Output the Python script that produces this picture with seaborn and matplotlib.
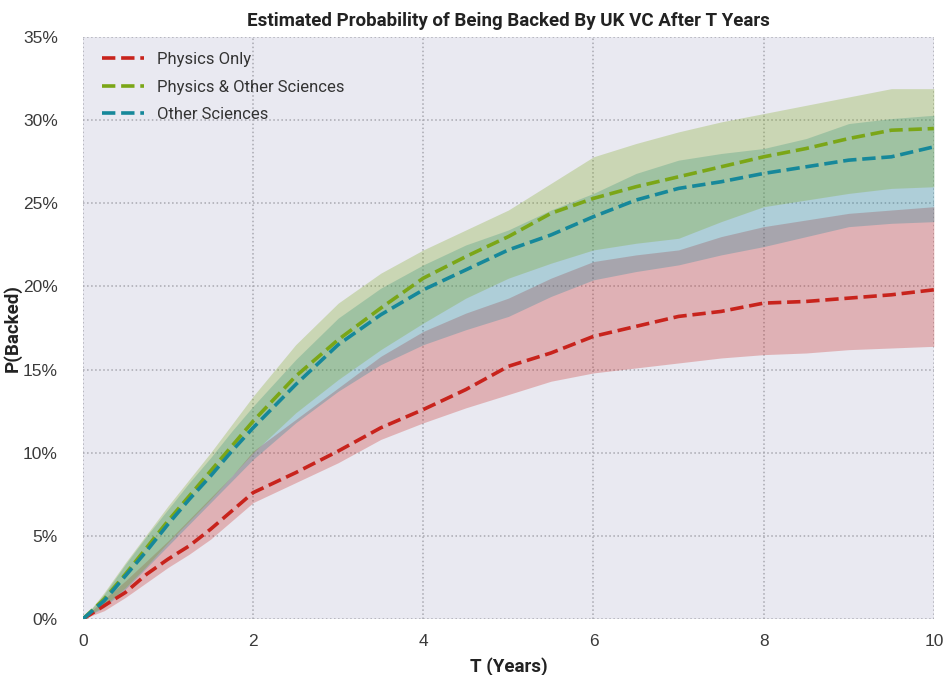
import matplotlib
matplotlib.use("Agg")
import matplotlib.pyplot as plt
import seaborn as sns
from matplotlib.ticker import FuncFormatter

# ---- data (percent) ----
T = [0, 0.25, 0.5, 0.75, 1, 1.25, 1.5, 1.75, 2, 2.5, 3, 3.5, 4, 4.5, 5,
     5.5, 6, 6.5, 7, 7.5, 8, 8.5, 9, 9.5, 10]

physics_only = [0, 0.8, 1.6, 2.7, 3.6, 4.4, 5.4, 6.5, 7.6, 8.8, 10.1, 11.5, 12.6,
                13.8, 15.2, 16.0, 17.0, 17.6, 18.2, 18.5, 19.0, 19.1, 19.3, 19.5, 19.8]
physics_only_lo = [0, 0.5, 1.3, 2.2, 3.1, 3.9, 4.8, 5.9, 7.0, 8.2, 9.4, 10.8, 11.8,
                   12.7, 13.5, 14.3, 14.8, 15.1, 15.4, 15.7, 15.9, 16.0, 16.2, 16.3, 16.4]
physics_only_hi = [0, 1.2, 2.3, 3.5, 4.7, 6.0, 7.3, 8.6, 10.1, 12.0, 13.9, 15.8, 17.3,
                   18.4, 19.3, 20.5, 21.5, 21.9, 22.2, 23.0, 23.6, 24.0, 24.4, 24.6, 24.8]

physics_other = [0, 1.2, 2.7, 4.3, 5.9, 7.4, 8.9, 10.4, 11.9, 14.6, 16.8, 18.7, 20.5,
                 21.8, 23.0, 24.4, 25.3, 26.0, 26.6, 27.2, 27.8, 28.3, 28.9, 29.4, 29.5]
physics_other_lo = [0, 0.8, 1.9, 3.2, 4.6, 5.9, 7.2, 8.6, 10.0, 12.4, 14.4, 16.2, 17.8,
                    19.3, 20.5, 21.4, 22.2, 22.6, 22.9, 23.9, 24.8, 25.2, 25.6, 25.9, 26.0]
physics_other_hi = [0, 1.6, 3.4, 5.1, 6.8, 8.4, 10.0, 11.7, 13.4, 16.5, 19.0, 20.8, 22.2,
                    23.4, 24.6, 26.2, 27.8, 28.6, 29.3, 29.9, 30.4, 30.9, 31.4, 31.9, 31.9]

other_sci = [0, 1.1, 2.6, 4.1, 5.7, 7.2, 8.6, 10.1, 11.5, 14.1, 16.5, 18.3, 19.8,
             21.0, 22.2, 23.1, 24.2, 25.2, 25.9, 26.3, 26.8, 27.2, 27.6, 27.8, 28.4]
other_sci_lo = [0, 0.7, 1.8, 3.1, 4.4, 5.7, 7.0, 8.3, 9.6, 11.8, 13.7, 15.3, 16.5,
                17.4, 18.2, 19.4, 20.4, 20.9, 21.3, 21.9, 22.4, 23.0, 23.6, 23.8, 23.9]
other_sci_hi = [0, 1.5, 3.3, 5.0, 6.6, 8.2, 9.7, 11.3, 12.8, 15.6, 18.1, 19.9, 21.3,
                22.5, 23.4, 24.6, 25.6, 26.8, 27.6, 28.0, 28.3, 28.9, 29.8, 30.1, 30.3]

series_names = ["Physics Only", "Physics & Other Sciences", "Other Sciences"]
series_colors = ["#c8231c", "#7ba617", "#16889a"]

x_ticks = [0, 2, 4, 6, 8, 10]
y_ticks = [0, 5, 10, 15, 20, 25, 30, 35]

# ---- style ----
sns.set_theme(style="darkgrid", rc={
    "axes.facecolor": "#e9e9f1",
    "grid.color": "#a8a8b0",
    "grid.linestyle": ":",
    "grid.linewidth": 1.1,
})
plt.rcParams["font.family"] = ["Liberation Sans", "DejaVu Sans"]
head_font = "Roboto"

fig = plt.figure(figsize=(9.47, 6.75), dpi=100)
ax = fig.add_axes([0.0876, 0.083, 0.8985, 0.862])

bands = [(physics_only_lo, physics_only_hi),
         (physics_other_lo, physics_other_hi),
         (other_sci_lo, other_sci_hi)]
lines = [physics_only, physics_other, other_sci]

for i in [0, 2, 1]:
    lo, hi = bands[i]
    ax.fill_between(T, lo, hi, color=series_colors[i], alpha=0.28, linewidth=0)

for i in range(3):
    sns.lineplot(x=T, y=lines[i], ax=ax, color=series_colors[i], linestyle="--",
                 linewidth=2.6, label=series_names[i])

ax.set_xlim(0, 10)
ax.set_ylim(0, 35)
ax.set_xticks(x_ticks)
ax.set_yticks(y_ticks)
ax.yaxis.set_major_formatter(FuncFormatter(lambda v, p: f"{int(v)}%"))
ax.tick_params(axis="both", labelsize=12.5, colors="#3a3a3a")
ax.tick_params(axis="x", pad=5)
ax.tick_params(axis="y", pad=12)

ax.set_title("Estimated Probability of Being Backed By UK VC After T Years",
             fontsize=13.5, pad=8, family=head_font, fontweight="bold", color="#222222")
ax.set_xlabel("T (Years)", fontsize=13.5, labelpad=6, family=head_font,
              fontweight="bold", color="#222222")
ax.set_ylabel("P(Backed)", fontsize=13.5, family=head_font,
              fontweight="bold", color="#222222")
ax.yaxis.set_label_coords(-0.072, 0.5)

leg = ax.legend(loc="upper left", frameon=False, prop={"family": head_font, "size": 12},
                handlelength=2.5, borderaxespad=0.5, labelspacing=0.75,
                handletextpad=0.8, bbox_to_anchor=(0.005, 1.0))
for t in leg.get_texts():
    t.set_color("#333333")

for s in ax.spines.values():
    s.set_visible(False)

fig.savefig("out.png", dpi=100)
